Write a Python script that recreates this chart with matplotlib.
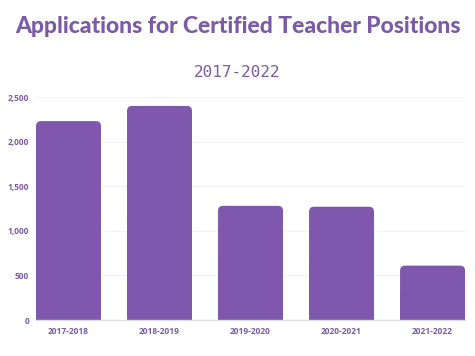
#!/usr/bin/env python3

import matplotlib
matplotlib.use("Agg")
import matplotlib.pyplot as plt
from matplotlib.patches import FancyBboxPatch

years = ["2017-2018", "2018-2019", "2019-2020", "2020-2021", "2021-2022"]
applications = [2230, 2400, 1280, 1270, 610]
y_ticks = [0, 500, 1000, 1500, 2000, 2500]

PURPLE = "#7f58ad"
TEXT = "#7a5ba6"


def main():
    fig = plt.figure(figsize=(4.75, 3.56), dpi=100)
    ax = fig.add_axes([0.0758, 0.101, 0.979 - 0.0758, 0.7275 - 0.101])

    bars = ax.bar(range(len(years)), applications, width=0.714, color=PURPLE, zorder=2)

    # rounded tops: round patch over the bar, square bar keeps bottom corners
    ax.set_xlim(-0.357, len(years) - 1 + 0.357)
    ax.set_ylim(0, 2500)
    fig.canvas.draw()
    bbox = ax.get_window_extent()
    px_per_x = bbox.width / (ax.get_xlim()[1] - ax.get_xlim()[0])
    px_per_y = bbox.height / (ax.get_ylim()[1] - ax.get_ylim()[0])
    r = 5 / px_per_x
    for b in bars:
        x, w, h = b.get_x(), b.get_width(), b.get_height()
        patch = FancyBboxPatch((x, 0), w, h,
                               boxstyle="round,pad=0,rounding_size=%f" % r,
                               mutation_aspect=px_per_x / px_per_y,
                               facecolor=PURPLE, edgecolor="none", zorder=2)
        ax.add_patch(patch)
        b.set_height(h / 2)

    ax.set_yticks(y_ticks)
    ax.set_yticklabels(["{:,}".format(v) for v in y_ticks])
    ax.set_xticks(range(len(years)))
    ax.set_xticklabels(years)
    for lab in ax.get_xticklabels() + ax.get_yticklabels():
        lab.set_fontfamily("Open Sans")
        lab.set_fontweight("bold")
        lab.set_fontsize(6.0)
        lab.set_color(TEXT)
    ax.tick_params(length=0, pad=5)

    ax.grid(axis="y", color="#f2f2f2", linewidth=0.8, zorder=0)
    for s in ["top", "right", "left"]:
        ax.spines[s].set_visible(False)
    ax.spines["bottom"].set_color("#dedede")
    ax.spines["bottom"].set_linewidth(1.0)
    ax.spines["bottom"].set_zorder(3)

    fig.text(0.5, 0.925, "Applications for Certified Teacher Positions",
             ha="center", va="center", fontsize=16.5, fontfamily="Lato",
             fontweight="black", color="#7b5aa6")
    fig.text(0.5, 0.797, "2017-2022", ha="center", va="center",
             fontsize=11.5, fontfamily="DejaVu Sans Mono", color="#7a5ba4")

    fig.savefig("out.png", dpi=100, facecolor="white")


if __name__ == "__main__":
    main()
